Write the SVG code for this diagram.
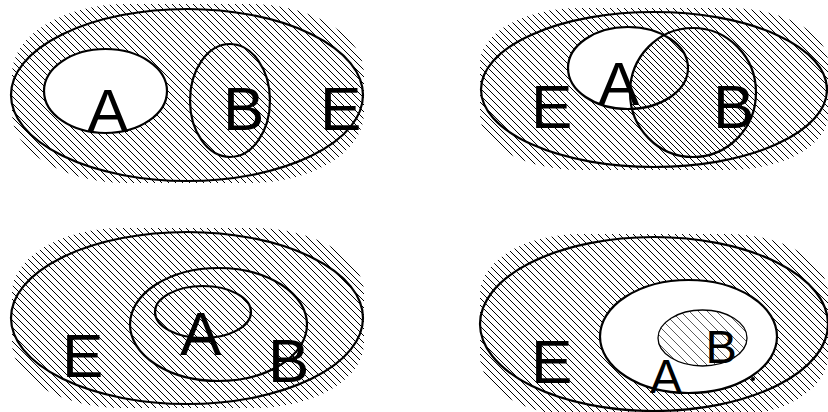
<svg xmlns="http://www.w3.org/2000/svg" width="828" height="412" viewBox="0 0 828 412">
<style>
.out{fill:none;stroke:#000;stroke-width:2.2}
.thin{fill:none;stroke:#000;stroke-width:1.3}
.lbl{font-family:"Liberation Sans",Arial,sans-serif;font-size:62px;fill:#000}
.white{fill:#fff;stroke:none}
.hl{fill:none;stroke:#000;shape-rendering:crispEdges}
</style>
<defs>
<pattern id="hatch" patternUnits="userSpaceOnUse" x="0" y="0" width="7" height="7">
<path d="M-1 -1L8 8M-1 6L1 8M6 -1L8 1" class="hl" stroke-width="1"/>
</pattern>
<pattern id="hatchB" patternUnits="userSpaceOnUse" x="0" y="0" width="6" height="6">
<path d="M-1 -1L7 7M-1 5L1 7M5 -1L7 1" class="hl" stroke-width="1"/>
</pattern>
<pattern id="hatchLight" patternUnits="userSpaceOnUse" x="0" y="0" width="9" height="9">
<path d="M-1 -1L10 10M-1 8L1 10M8 -1L10 1" fill="none" stroke="#333" stroke-width="0.8"/>
</pattern>
<clipPath id="c1"><rect x="12" y="4" width="352" height="179" rx="115" ry="70"/></clipPath>
<clipPath id="c2"><rect x="480" y="8" width="348" height="162" rx="100" ry="55"/></clipPath>
<clipPath id="c3"><rect x="12" y="228" width="352" height="180" rx="110" ry="65"/></clipPath>
<clipPath id="c4"><rect x="480" y="234" width="348" height="182" rx="100" ry="60"/></clipPath>
</defs>
<rect width="828" height="412" fill="#fff"/>

<!-- Panel 1 -->
<g id="panel1">
<rect x="0" y="0" width="380" height="200" fill="url(#hatch)" clip-path="url(#c1)"/>
<g id="p1-E"><ellipse cx="187" cy="95" rx="176" ry="86" class="out"/><text class="lbl" x="320" y="130">E</text></g>
<g id="p1-A"><ellipse cx="105.5" cy="91" rx="61.5" ry="42" class="white"/><ellipse cx="105.5" cy="91" rx="61.5" ry="42" class="out"/><text class="lbl" x="87" y="132">A</text></g>
<g id="p1-B"><ellipse cx="230" cy="100.5" rx="40" ry="56.5" class="out"/><text class="lbl" x="223" y="130">B</text></g>
</g>

<!-- Panel 2 -->
<g id="panel2">
<rect x="440" y="0" width="388" height="200" fill="url(#hatch)" clip-path="url(#c2)"/>
<g id="p2-E"><ellipse cx="654" cy="89.5" rx="173" ry="77.5" class="out"/><text class="lbl" x="531" y="128">E</text></g>
<g id="p2-A"><ellipse cx="628" cy="68" rx="60" ry="41" class="white"/></g>
<g id="p2-B"><ellipse cx="693" cy="92.5" rx="63" ry="64.5" class="white"/><ellipse cx="693" cy="92.5" rx="63" ry="64.5" fill="url(#hatchB)"/><ellipse cx="693" cy="92.5" rx="63" ry="64.5" class="out"/><text class="lbl" x="713" y="128">B</text></g>
<g id="p2-A-outline"><ellipse cx="628" cy="68" rx="60" ry="41" class="out"/><text class="lbl" x="598" y="105">A</text></g>
</g>

<!-- Panel 3 -->
<g id="panel3">
<rect x="0" y="210" width="380" height="202" fill="url(#hatch)" clip-path="url(#c3)"/>
<g id="p3-E"><ellipse cx="187" cy="318" rx="176" ry="86" class="out"/><text class="lbl" x="62" y="377">E</text></g>
<g id="p3-B"><ellipse cx="218.5" cy="324.5" rx="88.5" ry="56.5" class="out"/><text class="lbl" x="268" y="382">B</text></g>
<g id="p3-A"><ellipse cx="203" cy="312" rx="48" ry="26" class="out"/><text class="lbl" x="180" y="355">A</text></g>
</g>

<!-- Panel 4 -->
<g id="panel4">
<rect x="440" y="210" width="388" height="202" fill="url(#hatch)" clip-path="url(#c4)"/>
<g id="p4-E"><ellipse cx="654" cy="324" rx="174" ry="87" class="out"/><text class="lbl" x="531" y="383">E</text></g>
<g id="p4-A"><ellipse cx="688.5" cy="336.5" rx="88.5" ry="56.5" class="white"/><ellipse cx="688.5" cy="336.5" rx="88.5" ry="56.5" class="out"/><text class="lbl" x="650" y="393" style="font-size:48px">A</text><circle cx="753" cy="379" r="2" fill="#000"/></g>
<g id="p4-B"><ellipse cx="702.5" cy="338" rx="44.5" ry="28" fill="url(#hatchLight)"/><ellipse cx="702.5" cy="338" rx="44.5" ry="28" class="thin"/><text class="lbl" x="705.5" y="363" style="font-size:47px">B</text></g>
</g>
</svg>
